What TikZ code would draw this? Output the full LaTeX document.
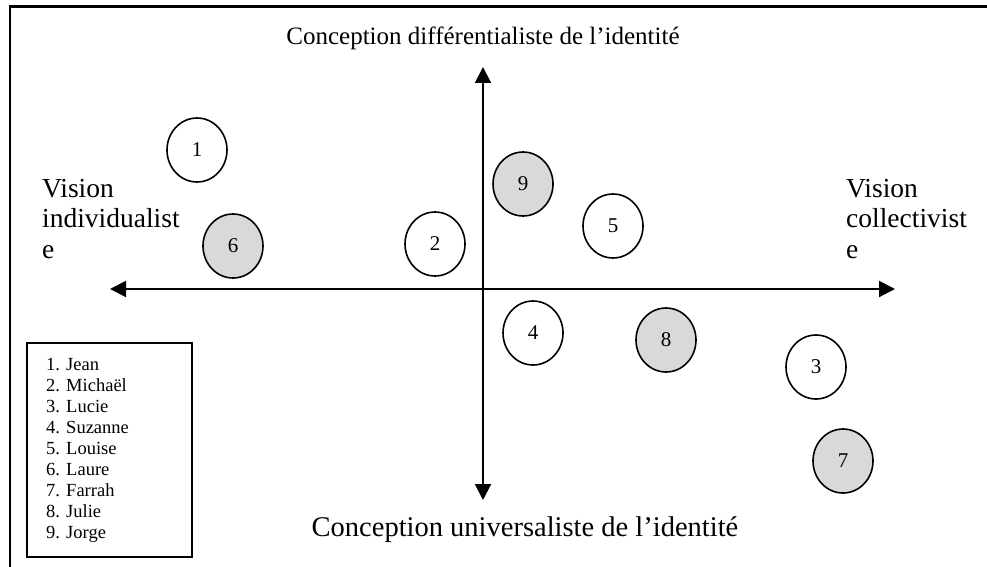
\documentclass[tikz,border=0pt]{standalone}
\usepackage{fontspec}
\setmainfont{Liberation Serif}
\usetikzlibrary{arrows.meta,shapes.geometric}
\definecolor{grayfill}{HTML}{D9D9D9}
\tikzset{
  person/.style={ellipse,draw,line width=1.6pt,minimum width=60pt,minimum height=64pt,inner sep=0pt,font=\fontsize{21}{24}\selectfont},
  white/.style={fill=white},
  shaded/.style={fill=grayfill},
  axis/.style={line width=2pt,{Triangle[length=16pt,width=16pt]}-{Triangle[length=16pt,width=16pt]}},
  bigtext/.style={font=\fontsize{25}{30.5}\selectfont,inner sep=0pt},
  sidetext/.style={font=\fontsize{27.5}{30.5}\selectfont,inner sep=0pt},
}
\begin{document}
\begin{tikzpicture}[x=1pt,y=-1pt]
\useasboundingbox (0,0) rectangle (987,567);
% outer frame (extends beyond the picture on the right and bottom)
\draw[line width=2.5pt] (1000,6.5) -- (10,6.5) -- (10,580);
% axes
\coordinate (hl) at (110,289);
\coordinate (hr) at (895,289);
\coordinate (vt) at (483,67);
\coordinate (vb) at (483,500);
\draw[axis] (hl) -- (hr);
\draw[axis] (vt) -- (vb);
% titles
\node[bigtext,anchor=base] (top) at (483,45) {Conception différentialiste de l’identité};
\node[bigtext,anchor=base,font=\fontsize{28.5}{32}\selectfont] (bot) at (525,536) {Conception universaliste de l’identité};
\node[sidetext,anchor=base west,align=left] (left) at (42,258) {Vision\\individualist\\e};
\node[sidetext,anchor=base west,align=left] (right) at (846,258) {Vision\\collectivist\\e};
% people
\node[person,white]  (p1) at (197,150) {1};
\node[person,shaded] (p6) at (233,246) {6};
\node[person,white]  (p2) at (435,244) {2};
\node[person,shaded] (p9) at (523,184) {9};
\node[person,white]  (p5) at (613,226) {5};
\node[person,white]  (p4) at (533,333) {4};
\node[person,shaded] (p8) at (666,340) {8};
\node[person,white]  (p3) at (816,367) {3};
\node[person,shaded] (p7) at (843,461) {7};
% legend
\node[draw,line width=2pt,minimum width=165pt,minimum height=214pt,inner sep=0pt] (legend) at (109.5,450) {};
\node[anchor=base west,align=left,inner sep=0pt,font=\fontsize{18.5}{21}\selectfont] (legtext) at (46,538)
 {1. Jean\\2. Michaël\\3. Lucie\\4. Suzanne\\5. Louise\\6. Laure\\7. Farrah\\8. Julie\\9. Jorge};
\end{tikzpicture}
\end{document}
